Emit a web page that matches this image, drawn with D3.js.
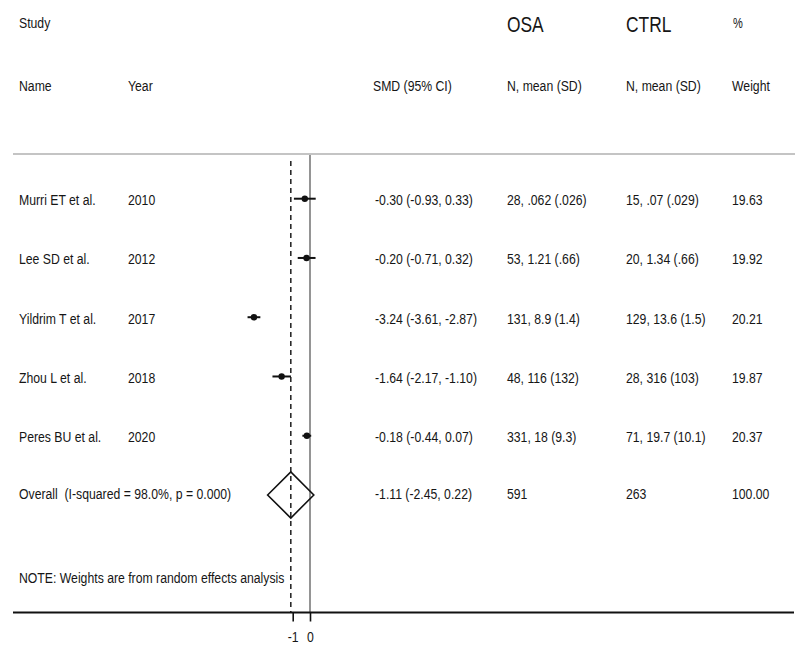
<!DOCTYPE html>
<html>
<head>
<meta charset="utf-8">
<script src="https://cdn.jsdelivr.net/npm/d3@7"></script>
<style>
  html, body { margin: 0; padding: 0; background: #fff; }
  svg text { font-family: "Liberation Sans", Arial, sans-serif; fill: #161616; white-space: pre; }
</style>
</head>
<body>
<svg id="chart" width="795" height="645"></svg>
<script>
// Study-level rows
const studies = ["Murri ET et al.", "Lee SD et al.", "Yildrim T et al.", "Zhou L et al.", "Peres BU et al."];
const years = ["2010", "2012", "2017", "2018", "2020"];
const smd = [-0.30, -0.20, -3.24, -1.64, -0.18];
const ciLow = [-0.93, -0.71, -3.61, -2.17, -0.44];
const ciHigh = [0.33, 0.32, -2.87, -1.10, 0.07];
const osaText = ["28, .062 (.026)", "53, 1.21 (.66)", "131, 8.9 (1.4)", "48, 116 (132)", "331, 18 (9.3)"];
const ctrlText = ["15, .07 (.029)", "20, 1.34 (.66)", "129, 13.6 (1.5)", "28, 316 (103)", "71, 19.7 (10.1)"];
const weights = [19.63, 19.92, 20.21, 19.87, 20.37];

// Pooled (random effects) result
const overallLabel = ["Overall  (I-squared = 98.0%, p = 0.000)"];
const overallSmd = [-1.11];
const overallLow = [-2.45];
const overallHigh = [0.22];
const overallN = [591, 263];
const overallWeight = [100.00];

const xTicks = [-1, 0];
const noteText = ["NOTE: Weights are from random effects analysis"];

const svg = d3.select("#chart");
const SX = 0.79;           // narrow letterforms
const FS = 15.5;

const x = d3.scaleLinear().domain([-1, 0]).range([292.7, 310]);
const rowY = d3.scaleLinear().domain([0, 5]).range([198.7, 495]);

const fmt = v => v.toFixed(2);

function txt(px, py, s, size = FS, anchor = "start") {
  svg.append("text")
    .attr("transform", `translate(${px},${py}) scale(${SX},1)`)
    .attr("text-anchor", anchor)
    .attr("xml:space", "preserve")
    .style("font-size", size + "px")
    .text(s);
}

// Column positions
const col = { name: 19, year: 128, smd: 375, osa: 507, ctrl: 626, weight: 732 };

// Header
txt(col.name, 28, "Study");
txt(col.osa, 32, "OSA", 22);
txt(col.ctrl, 32, "CTRL", 22);
txt(col.weight + 1, 28, "%", 14);
txt(col.name, 91, "Name");
txt(col.year, 91, "Year");
txt(col.smd - 2, 91, "SMD (95% CI)");
txt(col.osa, 91, "N, mean (SD)");
txt(col.ctrl, 91, "N, mean (SD)");
txt(col.weight, 91, "Weight");

// Separator under header
const topY = 154, axisY = 612.5;
svg.append("line").attr("x1", 13).attr("x2", 795).attr("y1", topY).attr("y2", topY)
  .attr("stroke", "#c4c4c4").attr("stroke-width", 2);

// Null line at zero
svg.append("line").attr("x1", x(0)).attr("x2", x(0)).attr("y1", topY + 1).attr("y2", axisY)
  .attr("stroke", "#7a7a7a").attr("stroke-width", 1.6);

// Dashed line at pooled estimate
svg.append("line").attr("x1", x(overallSmd[0])).attr("x2", x(overallSmd[0]))
  .attr("y1", topY + 7).attr("y2", axisY)
  .attr("stroke", "#2a2a2a").attr("stroke-width", 1.6).attr("stroke-dasharray", "5,4");

// Study rows
const rows = studies.map((s, i) => ({ s, year: years[i], est: smd[i], lo: ciLow[i], hi: ciHigh[i],
  osa: osaText[i], ctrl: ctrlText[i], w: weights[i], i }));

svg.selectAll("line.ci").data(rows).enter().append("line").attr("class", "ci")
  .attr("x1", d => x(d.lo)).attr("x2", d => x(d.hi))
  .attr("y1", d => rowY(d.i)).attr("y2", d => rowY(d.i))
  .attr("stroke", "#111").attr("stroke-width", 2);

svg.selectAll("circle.pt").data(rows).enter().append("circle").attr("class", "pt")
  .attr("cx", d => x(d.est)).attr("cy", d => rowY(d.i)).attr("r", 3.2)
  .attr("fill", "#111");

rows.forEach(d => {
  const by = rowY(d.i) + 6.5;
  txt(col.name, by, d.s);
  txt(col.year, by, d.year);
  txt(col.smd, by, `${fmt(d.est)} (${fmt(d.lo)}, ${fmt(d.hi)})`);
  txt(col.osa, by, d.osa);
  txt(col.ctrl, by, d.ctrl);
  txt(col.weight, by, fmt(d.w));
});

// Pooled diamond
const oy = rowY(5);
const dh = 23;
svg.append("path")
  .attr("d", `M${x(overallLow[0])},${oy} L${x(overallSmd[0])},${oy - dh} L${x(overallHigh[0])},${oy} L${x(overallSmd[0])},${oy + dh} Z`)
  .attr("fill", "none").attr("stroke", "#111").attr("stroke-width", 1.6);

const oby = oy + 4;
txt(col.name, oby, overallLabel[0]);
txt(col.smd, oby, `${fmt(overallSmd[0])} (${fmt(overallLow[0])}, ${fmt(overallHigh[0])})`);
txt(col.osa, oby, String(overallN[0]));
txt(col.ctrl, oby, String(overallN[1]));
txt(col.weight, oby, fmt(overallWeight[0]));

txt(col.name, 583, noteText[0]);

// Bottom axis
svg.append("line").attr("x1", 13).attr("x2", 794).attr("y1", axisY).attr("y2", axisY)
  .attr("stroke", "#111").attr("stroke-width", 2);

const axis = svg.append("g").attr("transform", `translate(0,${axisY})`)
  .call(d3.axisBottom(x).tickValues(xTicks).tickSize(9).tickFormat(d => String(d)));
axis.select(".domain").remove();
axis.selectAll(".tick line").attr("stroke", "#111").attr("stroke-width", 1.6);
axis.selectAll(".tick text")
  .attr("y", 0).attr("dy", 0)
  .attr("transform", `translate(0,29) scale(${SX},1)`)
  .style("font-size", FS + "px")
  .style("font-family", "'Liberation Sans', Arial, sans-serif")
  .attr("fill", "#161616");
</script>
</body>
</html>
